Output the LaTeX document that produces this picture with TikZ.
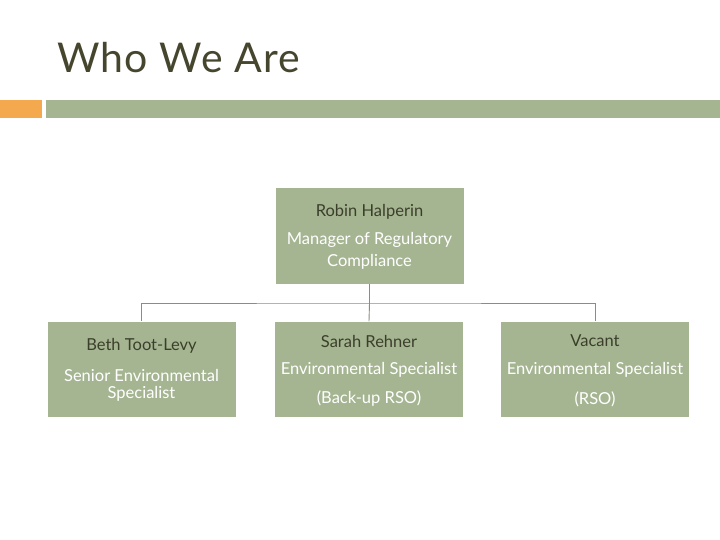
\documentclass[tikz,border=0pt]{standalone}
\usepackage{fontspec}
\setmainfont{Lato}
\definecolor{sage}{HTML}{A5B592}
\definecolor{orangebar}{HTML}{F5A94E}
\definecolor{darktext}{HTML}{3B3F2A}
\definecolor{titletext}{HTML}{46462F}
\definecolor{conncol}{HTML}{8C8C84}
\begin{document}
\begin{tikzpicture}[x=1pt,y=-1pt,
  box/.style={fill=sage,draw=none,minimum width=188pt,minimum height=95pt,inner sep=0pt},
  nametext/.style={text=darktext,font=\fontsize{16.5}{18}\selectfont,inner sep=0pt},
  roletext/.style={text=white,font=\fontsize{16.5}{18}\selectfont,inner sep=0pt},
  conn/.style={draw=conncol,line width=0.9pt}]
\useasboundingbox (0,0) rectangle (720,540);
\fill[white] (0,0) rectangle (720,540);
% title
\node[anchor=base west,text=titletext,font=\fontsize{41}{44}\selectfont\addfontfeature{LetterSpace=3},inner sep=0pt] (title) at (57,73) {Who We Are};
\fill[orangebar] (0,100) rectangle (42,118);
\fill[sage] (46,100) rectangle (720,118);
% boxes
\node[box] (top) at (369.5,236) {};
\node[box] (b1) at (141.5,369) {};
\node[box] (b2) at (369,369) {};
\node[box] (b3) at (595,369) {};
% texts
\node[nametext] (t0a) at (369.5,212) {Robin Halperin};
\node[roletext] (t0b) at (369.5,240) {Manager of Regulatory};
\node[roletext] (t0c) at (369.5,262) {Compliance};
\node[nametext] (t1a) at (141.5,346) {Beth Toot-Levy};
\node[roletext] (t1b) at (141.5,375) {Senior Environmental};
\node[roletext] (t1c) at (141.5,394) {Specialist};
\node[nametext] (t2a) at (369,341) {Sarah Rehner};
\node[roletext] (t2b) at (369,370) {Environmental Specialist};
\node[roletext] (t2c) at (369,399) {(Back-up RSO)};
\node[nametext] (t3a) at (595,341) {Vacant};
\node[roletext] (t3b) at (595,370) {Environmental Specialist};
\node[roletext] (t3c) at (595,399) {(RSO)};
% connectors
\coordinate (bus) at (369.5,303);
\draw[conn] (top.south) -- (bus);
\draw[conn] (b1.north) |- (bus) -| (b3.north);
\draw[conn] (bus) -- (b2.north);
\end{tikzpicture}
\end{document}
